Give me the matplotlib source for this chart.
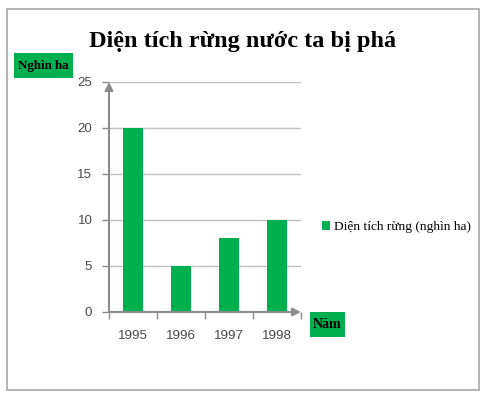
import matplotlib
matplotlib.use("Agg")
import matplotlib.pyplot as plt
from matplotlib.patches import Rectangle

years = ["1995", "1996", "1997", "1998"]
values = [20, 5, 8, 10]
yticks = [0, 5, 10, 15, 20, 25]
title = "Diện tích rừng nước ta bị phá"
series_name = "Diện tích rừng (nghìn ha)"
ylabel = "Nghìn ha"
xlabel = "Năm"

GREEN = "#00B050"
GRAY = "#8C8C8C"
W, H = 488, 400

fig = plt.figure(figsize=(W / 100, H / 100), dpi=100)
fig.patch.set_facecolor("white")


def fbox(x0, y0, x1, y1, **kw):
    """Rectangle given in pixel coords (top-left origin)."""
    r = Rectangle((x0 / W, 1 - y1 / H), (x1 - x0) / W, (y1 - y0) / H,
                  transform=fig.transFigure, **kw)
    fig.add_artist(r)
    return r


# outer border
fbox(7, 9, 479, 390, fill=False, edgecolor="#A6A6A6", linewidth=1.2)

ax_left, ax_right = 109, 301
ax_top, ax_bottom = 82, 312
ax = fig.add_axes([ax_left / W, 1 - ax_bottom / H,
                   (ax_right - ax_left) / W, (ax_bottom - ax_top) / H])

x = list(range(len(years)))
ax.bar(x, values, width=0.4, color=GREEN, zorder=3, label=series_name)
ax.set_xlim(-0.5, len(years) - 0.5)
ax.set_ylim(0, 25)
ax.set_yticks(yticks)
ax.set_yticklabels([str(v) for v in yticks])
ax.set_xticks(x)
ax.set_xticklabels(years)
ax.set_xticks([i + 0.5 for i in range(-1, len(years))], minor=True)
ax.tick_params(axis="x", which="major", length=0, pad=13)
ax.tick_params(axis="x", which="minor", length=5, color=GRAY, width=1)
ax.tick_params(axis="y", length=5, color=GRAY, width=1, pad=7)
for lab in ax.get_xticklabels() + ax.get_yticklabels():
    lab.set_fontfamily("Liberation Sans")
    lab.set_fontsize(9.6)
    lab.set_color("#4A4A4A")
ax.yaxis.grid(True, color="#BFBFBF", linewidth=1, zorder=0)
for s in ["top", "right", "left", "bottom"]:
    ax.spines[s].set_visible(False)

# axis arrows
ax.annotate("", xy=(0, 1.0), xycoords="axes fraction", xytext=(0, 0),
            arrowprops=dict(arrowstyle="-|>", color=GRAY, lw=1.5, mutation_scale=12,
                            shrinkA=0, shrinkB=0), zorder=4)
ax.annotate("", xy=(1.0, 0), xycoords="axes fraction", xytext=(0, 0),
            arrowprops=dict(arrowstyle="-|>", color=GRAY, lw=1.5, mutation_scale=12,
                            shrinkA=0, shrinkB=0), zorder=4)

fig.text(243 / W, 1 - 42 / H, title, ha="center", va="center",
         fontfamily="Liberation Serif", fontweight="bold", fontsize=17.5)

fbox(14, 53, 73, 78, facecolor=GREEN, edgecolor="none")
fig.text(43.5 / W, 1 - 65.5 / H, ylabel, ha="center", va="center",
         fontfamily="Liberation Serif", fontweight="bold", fontsize=9.3)
fbox(310, 312, 345, 337, facecolor=GREEN, edgecolor="none")
fig.text(327.5 / W, 1 - 324.5 / H, xlabel, ha="center", va="center",
         fontfamily="Liberation Serif", fontweight="bold", fontsize=10)

leg = fig.legend(loc="center left", bbox_to_anchor=(310 / W, 1 - 227 / H), frameon=False,
                 handlelength=0.6, handleheight=0.6, handletextpad=0.3,
                 prop={"family": "Liberation Serif", "size": 9.6})

fig.savefig("out.png", dpi=100, facecolor="white")
